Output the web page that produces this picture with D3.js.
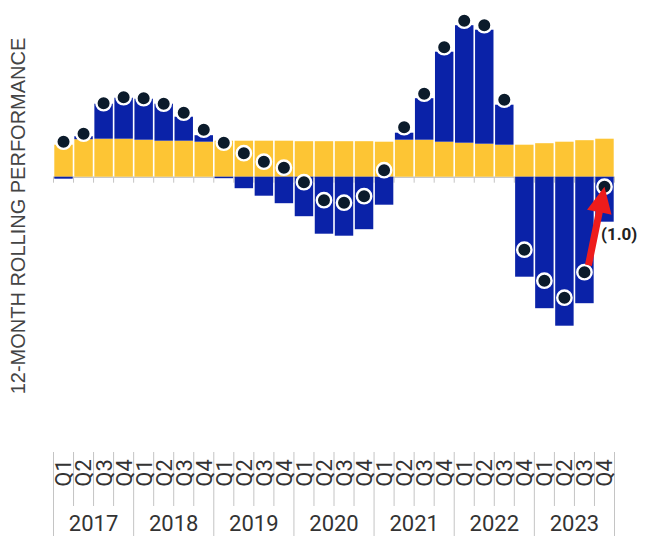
<!DOCTYPE html>
<html>
<head>
<meta charset="utf-8">
<script src="https://cdn.jsdelivr.net/npm/d3@7"></script>
<style>
  html, body { margin: 0; padding: 0; background: #fff; }
  svg { display: block; }
</style>
</head>
<body>
<svg id="chart" width="648" height="536"></svg>
<script>
const years = ["2017", "2018", "2019", "2020", "2021", "2022", "2023"];
const quarterNames = ["Q1", "Q2", "Q3", "Q4"];

// income component (yellow)
const income = [3.2, 3.75, 3.8, 3.8, 3.7, 3.6, 3.6, 3.5,
                3.6, 3.6, 3.6, 3.6, 3.55, 3.55, 3.55, 3.55,
                3.5, 3.7, 3.7, 3.5, 3.4, 3.3, 3.2, 3.2,
                3.35, 3.5, 3.65, 3.8];
// price component (blue)
const price = [-0.2, 0.3, 3.5, 4.1, 4.1, 3.7, 2.4, 0.65,
               -0.15, -1.15, -1.9, -2.65, -3.95, -5.7, -5.9, -5.25,
               -2.8, 0.7, 4.15, 9.0, 11.75, 11.4, 4.0, -10.0,
               -13.15, -14.9, -12.65, -4.5];
// total 12-month rolling performance (dots)
const total = [3.5, 4.3, 7.35, 7.95, 7.85, 7.3, 6.4, 4.7,
               3.4, 2.35, 1.5, 0.9, -0.55, -2.35, -2.6, -1.95,
               0.65, 4.95, 8.3, 12.95, 15.6, 15.15, 7.7, -7.3,
               -10.4, -12.1, -9.55, -1.0];

const axisTitle = "12-MONTH ROLLING PERFORMANCE";

const keys = [];
years.forEach(y => quarterNames.forEach(q => keys.push(y + "-" + q)));

const svg = d3.select("#chart");

const x = d3.scaleBand().domain(keys).range([53.5, 614.5]).paddingInner(0).paddingOuter(0);
const y = d3.scaleLinear().domain([-16, 16]).range([336.7, 16.7]);
const bw = x.bandwidth();

const YELLOW = "#fdc534";
const BLUE = "#0a22a8";
const DOT = "#0b1b2b";
const GRID = "#c4c4c4";

// baseline and ticks
svg.append("line")
  .attr("x1", x.range()[0]).attr("x2", x.range()[1])
  .attr("y1", y(0) + 0.5).attr("y2", y(0) + 0.5)
  .attr("stroke", "#b0b0b0").attr("stroke-width", 1);
svg.append("g").selectAll("line")
  .data(d3.range(keys.length + 1))
  .join("line")
  .attr("x1", i => x.range()[0] + i * bw).attr("x2", i => x.range()[0] + i * bw)
  .attr("y1", y(0)).attr("y2", y(0) + 6)
  .attr("stroke", GRID).attr("stroke-width", 1);

const data = keys.map((k, i) => ({ k, inc: income[i], pr: price[i], tot: total[i] }));

// yellow bars
svg.append("g").selectAll("rect")
  .data(data)
  .join("rect")
  .attr("x", d => x(d.k) + 0.8)
  .attr("width", bw - 1.6)
  .attr("y", d => y(Math.max(0, d.inc)))
  .attr("height", d => Math.abs(y(d.inc) - y(0)))
  .attr("fill", YELLOW);

// blue bars: stacked on top of yellow when positive, from zero when negative
svg.append("g").selectAll("rect")
  .data(data)
  .join("rect")
  .attr("x", d => x(d.k) + 0.8)
  .attr("width", bw - 1.6)
  .attr("y", d => d.pr >= 0 ? y(d.inc + d.pr) : y(0))
  .attr("height", d => d.pr >= 0 ? y(d.inc) - y(d.inc + d.pr) : y(d.pr) - y(0))
  .attr("fill", BLUE);

// dots
svg.append("g").selectAll("circle")
  .data(data)
  .join("circle")
  .attr("cx", d => x(d.k) + bw / 2)
  .attr("cy", d => y(d.tot))
  .attr("r", 7.2)
  .attr("fill", DOT)
  .attr("stroke", "#fff")
  .attr("stroke-width", 2.4);

// red arrow from last-but-one to last point
const n = data.length;
const p0 = data[n - 2], p1 = data[n - 1];
const sx = x(p0.k) + bw / 2 + 4, sy = y(p0.tot) - 7;
const tx = x(p1.k) + bw / 2, ty = y(p1.tot);
const dx = tx - sx, dy = ty - sy, len = Math.hypot(dx, dy);
const ux = dx / len, uy = dy / len, nx = -uy, ny = ux;
const headLen = 26, headW = 12.5, shaftW = 3.5;
const bx = tx - ux * headLen, by = ty - uy * headLen;
const arrowPts = [
  [sx + nx * shaftW, sy + ny * shaftW],
  [bx + nx * shaftW, by + ny * shaftW],
  [bx + nx * headW, by + ny * headW],
  [tx, ty],
  [bx - nx * headW, by - ny * headW],
  [bx - nx * shaftW, by - ny * shaftW],
  [sx - nx * shaftW, sy - ny * shaftW]
];
svg.append("path")
  .attr("d", d3.line()(arrowPts) + "Z")
  .attr("fill", "#ee1c1c");

const fmt = v => v < 0 ? "(" + d3.format(".1f")(-v) + ")" : d3.format(".1f")(v);
svg.append("text")
  .attr("x", tx - 3.5)
  .attr("y", ty + 53.5)
  .attr("font-family", "Roboto, sans-serif")
  .attr("font-weight", "bold")
  .attr("font-size", 17)
  .attr("fill", "#222")
  .text(fmt(p1.tot));

// bottom category axis
const axisTop = 452, qBottom = 506, yBottom = 536;
const x0 = x.range()[0];
svg.append("g").selectAll("line")
  .data(d3.range(keys.length + 1))
  .join("line")
  .attr("x1", i => x0 + i * bw).attr("x2", i => x0 + i * bw)
  .attr("y1", axisTop)
  .attr("y2", i => i % 4 === 0 ? yBottom : qBottom)
  .attr("stroke", GRID).attr("stroke-width", 1);

svg.append("g").selectAll("text")
  .data(keys)
  .join("text")
  .attr("transform", k => `translate(${x(k) + bw / 2},473) rotate(-90)`)
  .attr("text-anchor", "middle")
  .attr("dy", "0.36em")
  .attr("font-family", "Roboto, sans-serif")
  .attr("font-size", 22)
  .attr("fill", "#333")
  .text(k => k.split("-")[1]);

svg.append("g").selectAll("text")
  .data(years)
  .join("text")
  .attr("x", yr => x(yr + "-Q1") + bw * 2)
  .attr("y", 531)
  .attr("text-anchor", "middle")
  .attr("font-family", "Roboto, sans-serif")
  .attr("font-size", 22)
  .attr("fill", "#333")
  .text(yr => yr);

// y axis title
svg.append("text")
  .attr("transform", "translate(18,216) rotate(-90)")
  .attr("text-anchor", "middle")
  .attr("dy", "0.36em")
  .attr("font-family", "'Liberation Sans', Arial, sans-serif")
  .attr("font-size", 20)
  .attr("fill", "#444")
  .text(axisTitle);
</script>
</body>
</html>
